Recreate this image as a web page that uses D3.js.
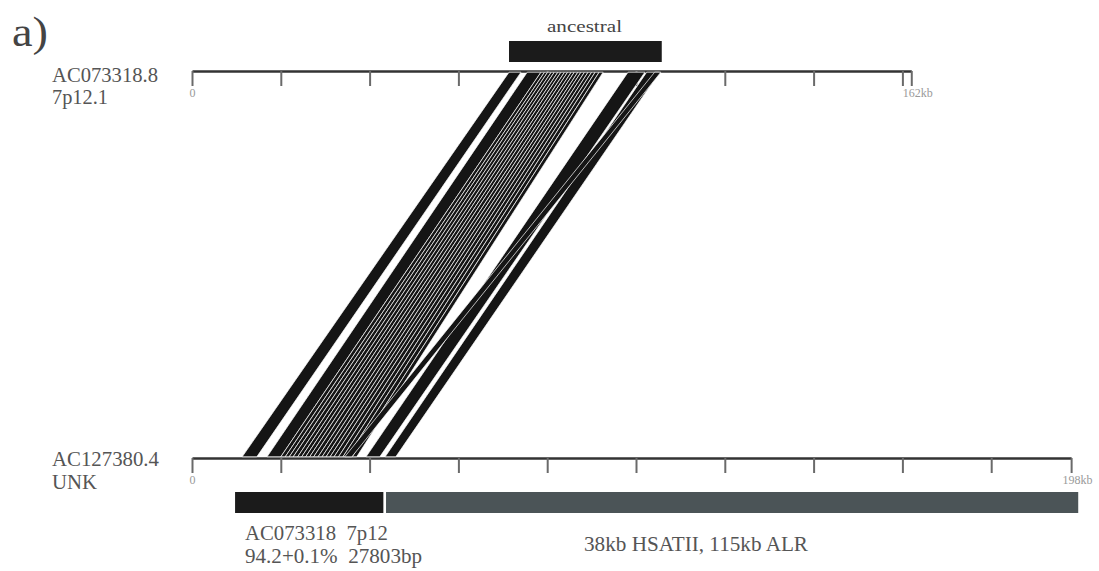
<!DOCTYPE html>
<html>
<head>
<meta charset="utf-8">
<script src="https://cdn.jsdelivr.net/npm/d3@7"></script>
<style>
  body { margin: 0; background: #fff; }
  svg { display: block; }
</style>
</head>
<body>
<svg id="chart" width="1099" height="571"></svg>
<script>
// sequence lengths (kb) and tick values
const topLength = 162;
const bottomLength = 198;
const topTicks = [0, 20, 40, 60, 80, 100, 120, 140, 160, 162];
const bottomTicks = [0, 20, 40, 60, 80, 100, 120, 140, 160, 180, 198];

// alignment ribbons: start/end on the top sequence and on the bottom sequence (kb)
const topStart = [71.4, 75.5, 78.6, 79.4, 80.1, 80.9, 81.6, 82.4, 83.1, 83.9, 84.6, 85.4, 86.1, 86.9, 87.6, 88.4, 89.2, 90.0, 90.8, 91.7, 98.2, 102.4, 104.2];
const topEnd   = [74.1, 78.6, 79.4, 80.1, 80.9, 81.6, 82.4, 83.1, 83.9, 84.6, 85.4, 86.1, 86.9, 87.6, 88.4, 89.2, 90.0, 90.8, 91.7, 92.6, 102.0, 105.3, 105.6];
const botStart = [11.3, 16.9, 20.0, 21.0, 21.9, 22.8, 23.8, 24.7, 25.6, 26.5, 27.4, 28.4, 29.3, 30.2, 31.1, 32.0, 33.0, 34.0, 35.0, 36.1, 39.2, 43.5, 34.4];
const botEnd   = [14.6, 20.0, 21.0, 21.9, 22.8, 23.8, 24.7, 25.6, 26.5, 27.4, 28.4, 29.3, 30.2, 31.1, 32.0, 33.0, 34.0, 35.0, 36.1, 37.1, 42.3, 45.9, 36.0];

// annotation blocks (kb)
const ancestral = [71.4, 105.8];
const bottomBlocks = [
  {name: "AC073318", start: 9.7, end: 43.1, fill: "#1b1b1b"},
  {name: "satellite", start: 43.7, end: 199.6, fill: "#4b5457"}
];

const svg = d3.select("#chart");
const serif = "'Liberation Serif', 'DejaVu Serif', serif";

const yTop = 71, yBot = 458;
const xTop = d3.scaleLinear().domain([0, topLength]).range([192, 192 + topLength * 4.44]);
const xBot = d3.scaleLinear().domain([0, bottomLength]).range([192, 192 + bottomLength * 4.44]);

function drawAxis(scale, ticks, y, endLabel) {
  const g = svg.append("g")
    .attr("transform", `translate(0,${y})`)
    .call(d3.axisBottom(scale)
      .tickValues(ticks)
      .tickSize(15)
      .tickSizeOuter(0)
      .tickFormat(d => d === 0 ? "0" : (d === ticks[ticks.length - 1] ? endLabel : "")));
  g.select(".domain").attr("stroke", "#333").attr("stroke-width", 2.5);
  g.selectAll(".tick line").attr("stroke", "#6a6a6a").attr("stroke-width", 2);
  g.selectAll(".tick text")
    .attr("fill", "#9a9a9a")
    .attr("font-family", serif)
    .attr("font-size", 12)
    .attr("y", 17);
  g.selectAll(".tick").filter(d => d === ticks[ticks.length - 1])
    .select("text").attr("dx", 6);
}
drawAxis(xTop, topTicks, yTop, "162kb");
drawAxis(xBot, bottomTicks, yBot, "198kb");

// ribbons, drawn over the axis ticks
const ribbons = topStart.map((d, i) => ({t0: d, t1: topEnd[i], b0: botStart[i], b1: botEnd[i]}));
const y0 = yTop + 1.2, y1 = yBot - 1.2;
svg.append("g")
  .selectAll("path")
  .data(ribbons)
  .join("path")
    .attr("d", r => `M${xTop(r.t0)},${y0}L${xTop(r.t1)},${y0}L${xBot(r.b1)},${y1}L${xBot(r.b0)},${y1}Z`)
    .attr("fill", "#151515")
    .attr("stroke", "#fff")
    .attr("stroke-width", 0.7);

// ancestral block
svg.append("rect")
  .attr("x", xTop(ancestral[0]))
  .attr("y", 41)
  .attr("width", xTop(ancestral[1]) - xTop(ancestral[0]))
  .attr("height", 21)
  .attr("fill", "#1b1b1b");

// bottom blocks
svg.append("g")
  .selectAll("rect")
  .data(bottomBlocks)
  .join("rect")
    .attr("x", d => xBot(d.start))
    .attr("y", 492)
    .attr("width", d => xBot(d.end) - xBot(d.start))
    .attr("height", 21)
    .attr("fill", d => d.fill);

// text labels
const labels = [
  {t: "a)", x: 12, y: 46, size: 42, len: 36, fill: "#444"},
  {t: "AC073318.8", x: 52, y: 82, size: 21, len: 106, fill: "#555"},
  {t: "7p12.1", x: 52, y: 104, size: 21, len: 56, fill: "#555"},
  {t: "AC127380.4", x: 52, y: 466, size: 21, len: 107, fill: "#555"},
  {t: "UNK", x: 52, y: 489, size: 21, len: 45, fill: "#555"},
  {t: "ancestral", x: 547, y: 32, size: 17, len: 75, fill: "#444"},
  {t: "AC073318  7p12", x: 245, y: 540, size: 21, len: 143, fill: "#555"},
  {t: "94.2+0.1%  27803bp", x: 245, y: 563, size: 21, len: 177, fill: "#555"},
  {t: "38kb HSATII, 115kb ALR", x: 584, y: 551, size: 21, len: 224, fill: "#555"}
];
svg.append("g")
  .selectAll("text")
  .data(labels)
  .join("text")
    .attr("x", d => d.x)
    .attr("y", d => d.y)
    .attr("font-family", serif)
    .attr("font-size", d => d.size)
    .attr("textLength", d => d.len)
    .attr("lengthAdjust", "spacingAndGlyphs")
    .attr("fill", d => d.fill)
    .style("white-space", "pre")
    .text(d => d.t);
</script>
</body>
</html>
